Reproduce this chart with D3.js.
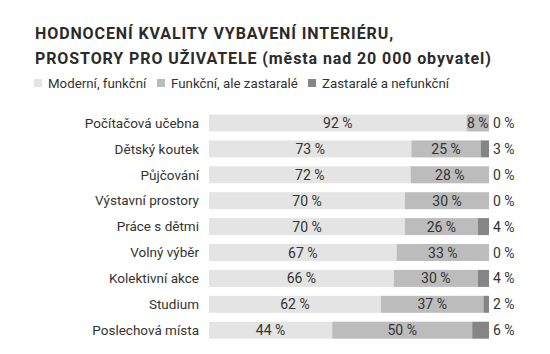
<!DOCTYPE html>
<html><head><meta charset="utf-8">
<script src="https://cdn.jsdelivr.net/npm/d3@7"></script>
<style>body{margin:0;background:#fff}svg{display:block}</style>
</head><body>
<svg id="c" width="550" height="354"></svg>
<script>
const categories = ["Počítačová učebna","Dětský koutek","Půjčování","Výstavní prostory","Práce s dětmi","Volný výběr","Kolektivní akce","Studium","Poslechová místa"];
const modern = [92,73,72,70,70,67,66,62,44];
const functional = [8,25,28,30,26,33,30,37,50];
const outdated = [0,3,0,0,4,0,4,2,6];
const seriesNames = ["Moderní, funkční","Funkční, ale zastaralé","Zastaralé a nefunkční"];
const colors = ["#e4e4e4","#bcbcbc","#858585"];
const titleLines = ["HODNOCENÍ KVALITY VYBAVENÍ INTERIÉRU,","PROSTORY PRO UŽIVATELE (města nad 20 000 obyvatel)"];

const svg = d3.select("#c");
const font = "Roboto, 'Noto Sans', sans-serif";
const textCol = "#2b2b2b";

svg.append("g").selectAll("text").data(titleLines).join("text")
  .attr("x",35).attr("y",(d,i)=>39+i*25)
  .attr("font-family",font).attr("font-weight",700).attr("font-size",16)
  .attr("letter-spacing",0.9).attr("fill",textCol).text(d=>d);

const legX = [34,157,308];
const lg = svg.append("g").selectAll("g").data(seriesNames).join("g")
  .attr("transform",(d,i)=>`translate(${legX[i]},79)`);
lg.append("rect").attr("width",8).attr("height",8).attr("fill",(d,i)=>colors[i]);
lg.append("text").attr("x",14).attr("y",8.7).attr("font-family",font).attr("font-size",13.3)
  .attr("fill","#333").text(d=>d);

const rows = categories.map((c,i)=>({cat:c, vals:[modern[i],functional[i],outdated[i]]}));
const x = d3.scaleLinear().domain([0,1]).range([209,489]);
const y = d3.scaleBand().domain(categories).range([114.5,338.7]).paddingInner(0.344).paddingOuter(0);

svg.append("g").selectAll("text").data(categories).join("text")
  .attr("x",199).attr("y",d=>y(d)+y.bandwidth()/2+4.8).attr("text-anchor","end")
  .attr("font-family",font).attr("font-size",13.5).attr("fill","#333").text(d=>d);

rows.forEach(r=>{
  const tot = d3.sum(r.vals);
  let acc = 0;
  const segs = r.vals.map((v,k)=>{const s={k,v,a:acc/tot,b:(acc+v)/tot}; acc+=v; return s;});
  const g = svg.append("g");
  g.selectAll("rect").data(segs).join("rect")
    .attr("x",s=>x(s.a)).attr("width",s=>x(s.b)-x(s.a))
    .attr("y",y(r.cat)).attr("height",y.bandwidth()).attr("fill",s=>colors[s.k]);
  g.selectAll("text").data(segs).join("text")
    .attr("x",s=>s.k<2?(x(s.a)+x(s.b))/2:x(1)+4)
    .attr("text-anchor",s=>s.k<2?"middle":"start")
    .attr("y",y(r.cat)+y.bandwidth()/2+5)
    .attr("font-family",font).attr("font-size",14).attr("fill","#333")
    .text(s=>s.v+" %");
});
</script>
</body></html>
